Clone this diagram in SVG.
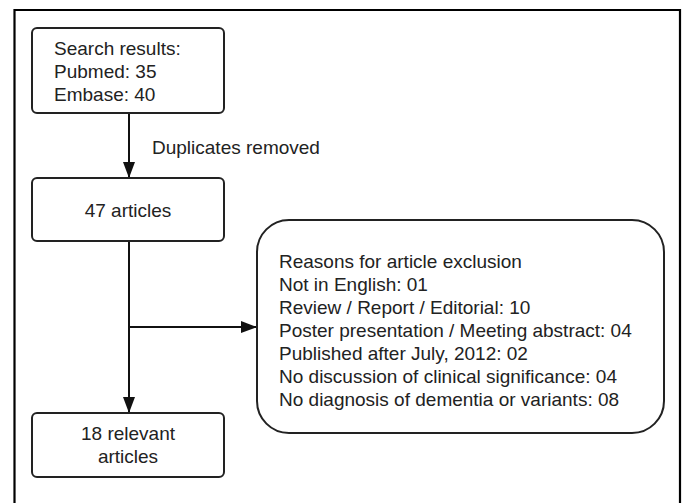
<svg xmlns="http://www.w3.org/2000/svg" width="683" height="503" viewBox="0 0 683 503">
  <style>
    .box { fill: #ffffff; stroke: #222222; stroke-width: 2; }
    .t { font-family: "Liberation Sans", Arial, sans-serif; font-size: 19px; fill: #222222; }
    .c { text-anchor: middle; }
    .conn { stroke: #111111; stroke-width: 2; fill: none; }
  </style>
  <defs>
    <marker id="arrow" markerWidth="16" markerHeight="12" refX="16" refY="6" orient="auto" markerUnits="userSpaceOnUse">
      <path d="M0,0 L16,6 L0,12 Z" fill="#111111"/>
    </marker>
  </defs>
  <rect x="0" y="0" width="683" height="503" fill="#ffffff"/>
  <path d="M14.5,510 L14.5,10 L680,10 L680,510" fill="none" stroke="#000000" stroke-width="2.2"/>

  <g id="connectors">
    <line class="conn" x1="129" y1="113" x2="129" y2="178" marker-end="url(#arrow)"/>
    <line class="conn" x1="129" y1="241" x2="129" y2="413" marker-end="url(#arrow)"/>
    <line class="conn" x1="129" y1="327" x2="257" y2="327" marker-end="url(#arrow)"/>
    <text class="t" x="152" y="154">Duplicates removed</text>
  </g>

  <g id="search">
    <rect class="box" x="32" y="28" width="192" height="85" rx="5"/>
    <text class="t" x="54" y="55">Search results:</text>
    <text class="t" x="54" y="78">Pubmed: 35</text>
    <text class="t" x="54" y="101">Embase: 40</text>
  </g>

  <g id="articles47">
    <rect class="box" x="32" y="178" width="192" height="63" rx="5"/>
    <text class="t c" x="128" y="217">47 articles</text>
  </g>

  <g id="relevant">
    <rect class="box" x="32" y="413" width="192" height="64" rx="5"/>
    <text class="t c" x="128" y="440">18 relevant</text>
    <text class="t c" x="128" y="463">articles</text>
  </g>

  <g id="exclusion">
    <rect class="box" x="257" y="220" width="407" height="213" rx="32"/>
    <text class="t" x="279" y="268">Reasons for article exclusion</text>
    <text class="t" x="279" y="291">Not in English: 01</text>
    <text class="t" x="279" y="314">Review / Report / Editorial: 10</text>
    <text class="t" x="279" y="337">Poster presentation / Meeting abstract: 04</text>
    <text class="t" x="279" y="360">Published after July, 2012: 02</text>
    <text class="t" x="279" y="383">No discussion of clinical significance: 04</text>
    <text class="t" x="279" y="406">No diagnosis of dementia or variants: 08</text>
  </g>
</svg>
